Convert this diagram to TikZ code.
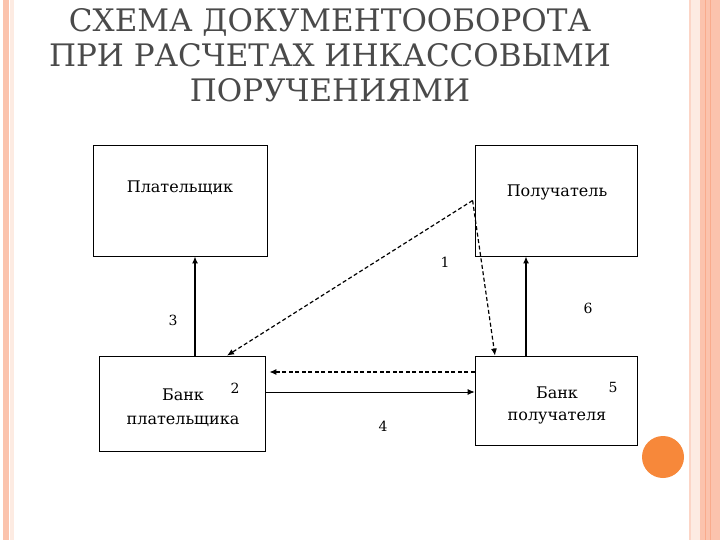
\documentclass[tikz,border=0pt]{standalone}
\usepackage{fontspec}
\setmainfont{DejaVu Serif}
\usetikzlibrary{arrows.meta, positioning, calc}
\definecolor{stripe}{HTML}{FBC3AD}
\definecolor{stripepale}{HTML}{FDEBE2}
\definecolor{dot}{HTML}{F7883A}
\definecolor{titlegray}{HTML}{4A4A4A}
\tikzset{
  block/.style={
    rectangle,
    draw,
    line width=0.8pt,
    inner sep=0pt
  },
  boxtext/.style={
    align=center,
    inner sep=0pt,
    font=\fontsize{16}{24}\selectfont
  },
  num/.style={
    inner sep=0pt,
    font=\fontsize{14}{18}\selectfont
  },
  arrow/.style={-{Latex[length=7pt,width=6pt]}, line width=1.6pt},
  thinarrow/.style={-{Latex[length=7pt,width=6pt]}, line width=0.8pt},
  dashedarrow/.style={-{Latex[length=7pt,width=6pt]}, dashed, line width=1.2pt,
    dash pattern=on 4pt off 2.5pt}
}
\begin{document}
\begin{tikzpicture}[x=1pt, y=-1pt]
  \useasboundingbox (0,0) rectangle (720,540);
  % slide frame
  \fill[white] (0,0) rectangle (720,540);
  \fill[stripe] (3,0) rectangle (9,540);
  \fill[stripepale] (10,0) rectangle (14,540);
  \fill[stripe!70] (689,0) rectangle (691,540);
  \fill[stripepale] (691,0) rectangle (700,540);
  \fill[stripe] (700,0) rectangle (720,540);
  \draw[stripe!140, line width=0.6pt] (705,0) -- (705,540);
  \draw[stripe!140, line width=0.6pt] (710,0) -- (710,540);
  \fill[dot] (663,457) circle (21);

  \node[align=center, text=titlegray, inner sep=0pt,
        font=\fontsize{31}{35}\selectfont] (title) at (330,55)
  {СХЕМА ДОКУМЕНТООБОРОТА\\
   ПРИ РАСЧЕТАХ ИНКАССОВЫМИ\\
   ПОРУЧЕНИЯМИ};

  \node[block, minimum width=174pt, minimum height=111pt] (payer) at (180,200.5) {};
  \node[block, minimum width=162pt, minimum height=111pt] (payee) at (556,200.5) {};
  \node[block, minimum width=166pt, minimum height=95pt] (payerbank) at (182,403.5) {};
  \node[block, minimum width=162pt, minimum height=89pt] (payeebank) at (556,400.5) {};

  \node[boxtext] (payertxt) at (180,188) {Плательщик};
  \node[boxtext] (payeetxt) at (557,192) {Получатель};
  \node[boxtext] (payerbanktxt) at (183,408) {Банк\\плательщика};
  \node[boxtext, font=\fontsize{16}{22}\selectfont] (payeebanktxt) at (557,405) {Банк\\получателя};

  \node[num] (n1) at (445,262) {1};
  \node[num] (n2) at (235,388) {2};
  \node[num] (n3) at (173,320) {3};
  \node[num] (n4) at (383,426) {4};
  \node[num] (n5) at (613,387) {5};
  \node[num] (n6) at (588,308) {6};

  \coordinate (dashy) at (0,372);
  \coordinate (soly) at (0,392);

  \draw[arrow] ([xshift=13pt]payerbank.north) -- ([xshift=13pt]payerbank.north |- payer.south);
  \draw[arrow] ([xshift=-30pt]payeebank.north) -- ([xshift=-30pt]payeebank.north |- payee.south);
  \draw[dashedarrow] ([xshift=-2pt]payee.west) -- ([xshift=45pt]payerbank.north);
  \draw[dashedarrow] ([xshift=-2pt]payee.west) -- ([xshift=-61pt]payeebank.north);
  \draw[dashedarrow] (payeebank.west |- dashy) -- ([xshift=4pt]payerbank.east |- dashy);
  \draw[thinarrow] (payerbank.east |- soly) -- (payeebank.west |- soly);
\end{tikzpicture}
\end{document}
